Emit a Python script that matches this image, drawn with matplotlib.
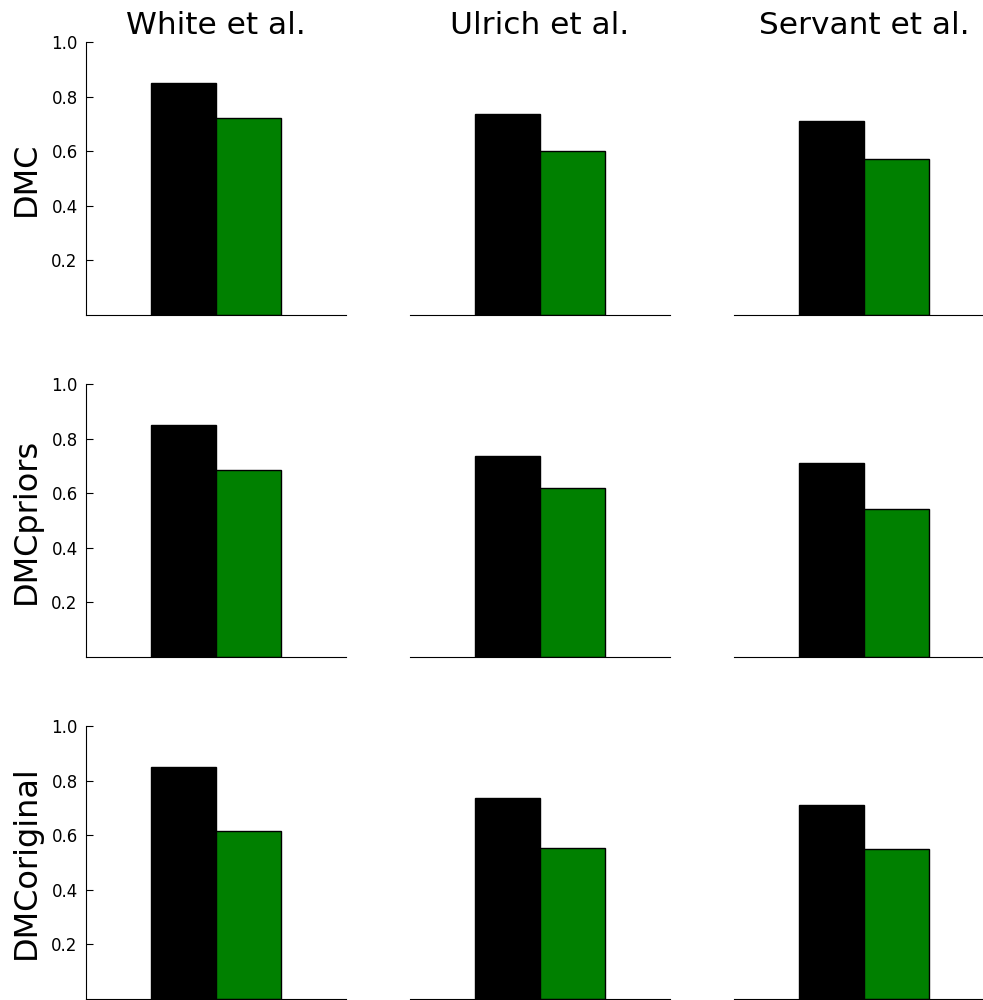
import numpy as np
import matplotlib.pyplot as plt

studies = ['White et al.', 'Ulrich et al.', 'Servant et al.']
models = ['DMC', 'DMCpriors', 'DMCoriginal']

# first bar in every panel: observed data, second bar: model fit
observed = [0.851, 0.736, 0.710]
fits = {
    'DMC': [0.723, 0.602, 0.573],
    'DMCpriors': [0.685, 0.619, 0.542],
    'DMCoriginal': [0.614, 0.552, 0.548],
}

fig = plt.figure(figsize=(9.83, 10), dpi=100)

lefts = [86, 410, 734]
bottoms = [685, 343, 1]
w, h = 260, 273

for r, model in enumerate(models):
    for c, study in enumerate(studies):
        ax = fig.add_axes([lefts[c] / 983, bottoms[r] / 1000, w / 983, h / 1000])
        ax.bar([0, 1], [observed[c], fits[model][c]], width=1, align='edge',
               color=['black', 'green'], edgecolor='black', linewidth=1)
        ax.set_xlim(-1, 3)
        ax.set_ylim(0, 1)
        ax.spines['top'].set_visible(False)
        ax.spines['right'].set_visible(False)
        ax.set_xticks([])
        if c == 0:
            ax.set_yticks([0.2, 0.4, 0.6, 0.8, 1.0])
            ax.set_yticklabels(['0.2', '0.4', '0.6', '0.8', '1.0'])
            ax.tick_params(axis='y', direction='in', length=5, labelsize=12, pad=6)
            ax.set_ylabel(model, fontsize=23, labelpad=7)
        else:
            ax.spines['left'].set_visible(False)
            ax.set_yticks([])
        if r == 0:
            ax.set_title(study, fontsize=22.5, pad=6)

fig.savefig('out.png', dpi=100)
